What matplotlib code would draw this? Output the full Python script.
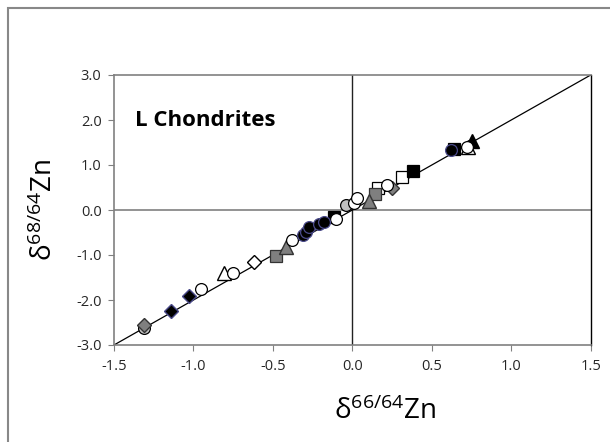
import matplotlib
matplotlib.use("Agg")
import matplotlib.pyplot as plt
from matplotlib.patches import Rectangle

# data (d66, d68)
open_circ_x = [-0.95, -0.75, -0.38, -0.10, 0.01, 0.03, 0.22, 0.72]
open_circ_y = [-1.76, -1.40, -0.67, -0.20, 0.15, 0.27, 0.56, 1.40]
gray_circ_x = [-1.31, -0.04]
gray_circ_y = [-2.62, 0.11]
black_circ_x = [-0.31, -0.29, -0.27, -0.21, -0.18, 0.62]
black_circ_y = [-0.55, -0.49, -0.38, -0.30, -0.27, 1.33]
black_diam_x = [-1.14, -1.03]
black_diam_y = [-2.24, -1.91]
gray_diam_x = [-1.31, 0.25]
gray_diam_y = [-2.56, 0.49]
open_diam_x = [-0.62]
open_diam_y = [-1.16]
open_tri_x = [-0.81, 0.73]
open_tri_y = [-1.40, 1.40]
gray_tri_x = [-0.42, 0.105]
gray_tri_y = [-0.82, 0.20]
black_tri_x = [0.75]
black_tri_y = [1.53]
open_sq_x = [0.16, 0.31]
open_sq_y = [0.49, 0.73]
gray_sq_x = [-0.48, 0.14]
gray_sq_y = [-1.02, 0.36]
black_sq_x = [-0.115, 0.38, 0.64]
black_sq_y = [-0.16, 0.86, 1.36]

line_x = [-1.5, 1.5]
line_y = [-3.0, 3.0]

xticks = [-1.5, -1.0, -0.5, 0.0, 0.5, 1.0, 1.5]
yticks = [-3.0, -2.0, -1.0, 0.0, 1.0, 2.0, 3.0]

plt.rcParams['font.family'] = ['Open Sans', 'DejaVu Sans']

fig = plt.figure(figsize=(6.10, 4.42), dpi=100)
fig.patches.append(Rectangle((8/610, -0.1), 1.2, 1 - 8/442 + 0.1, transform=fig.transFigure,
                             fill=False, edgecolor='#888888', linewidth=1.5, zorder=0))
ax = fig.add_axes([114/610, 1 - 345/442, (590.7 - 114)/610, (345 - 75)/442])

ax.axhline(0, color='#808080', lw=1.2, zorder=1)
ax.axvline(0, color='#222222', lw=1.0, zorder=1)
ax.plot(line_x, line_y, color='black', lw=0.9, zorder=2)

ms = 8.5
kw = dict(linestyle='none', markersize=ms, zorder=3, markeredgewidth=0.9)
ax.plot(gray_circ_x, gray_circ_y, marker='o', mfc='#bfbfbf', mec='black', **kw)
ax.plot(gray_diam_x, gray_diam_y, marker='D', mfc='#7f7f7f', mec='#333333', markersize=7.5, linestyle='none', zorder=3)
ax.plot(open_sq_x, open_sq_y, marker='s', mfc='white', mec='black', **kw)
ax.plot(gray_sq_x, gray_sq_y, marker='s', mfc='#7f7f7f', mec='#333333', **kw)
ax.plot(black_sq_x, black_sq_y, marker='s', mfc='black', mec='black', **kw)
ax.plot(open_tri_x, open_tri_y, marker='^', mfc='white', mec='black', markersize=9.5, linestyle='none', zorder=3)
ax.plot(gray_tri_x, gray_tri_y, marker='^', mfc='#7f7f7f', mec='#333333', markersize=9.5, linestyle='none', zorder=3)
ax.plot(black_tri_x, black_tri_y, marker='^', mfc='black', mec='black', markersize=9.5, linestyle='none', zorder=3)
ax.plot(open_circ_x, open_circ_y, marker='o', mfc='white', mec='black', **kw)
ax.plot(black_circ_x, black_circ_y, marker='o', mfc='black', mec='#4a4a8a', **kw)
ax.plot(black_diam_x, black_diam_y, marker='D', mfc='black', mec='#4a4a8a', markersize=7.5, linestyle='none', zorder=3)
ax.plot(open_diam_x, open_diam_y, marker='D', mfc='white', mec='black', markersize=7.5, linestyle='none', zorder=3)

ax.set_xlim(-1.5, 1.5)
ax.set_ylim(-3.0, 3.0)
ax.set_xticks(xticks)
ax.set_yticks(yticks)
ax.set_xticklabels([f"{v:.1f}" for v in xticks])
ax.set_yticklabels([f"{v:.1f}" for v in yticks])
ax.tick_params(direction='out', length=4, width=0.8, colors='#808080', labelcolor='#262626', labelsize=10.5)
ax.tick_params(axis='x', pad=6)
ax.tick_params(axis='y', pad=5)
for s in ['left', 'bottom', 'top']:
    ax.spines[s].set_color('#808080')
    ax.spines[s].set_linewidth(1.2)
ax.spines['right'].set_color('black')
ax.spines['right'].set_linewidth(1.0)

ax.text(0.045, 0.833, 'L Chondrites', transform=ax.transAxes, fontsize=16, fontweight='bold', va='center')

fig.text(385/610, 1 - 412/442, r'$\mathregular{\delta^{66/64}}$Zn', fontsize=20, ha='center', va='center')
fig.text(45/610, 1 - 210/442, r'$\mathregular{\delta^{68/64}}$Zn', fontsize=20, ha='center', va='center', rotation=90)

fig.savefig('out.png', dpi=100)
